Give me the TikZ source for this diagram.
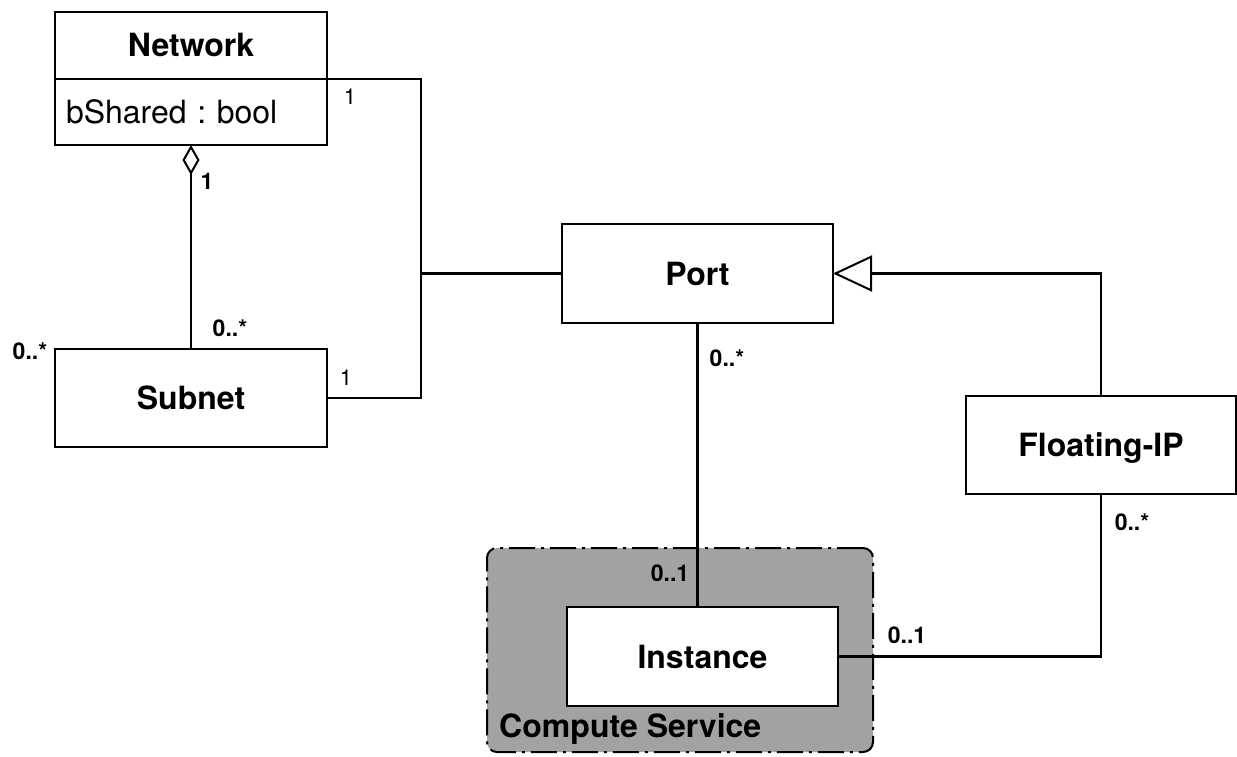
\documentclass[tikz,border=0pt]{standalone}
\usepackage{fontspec}
\setmainfont{TeX Gyre Heros}
\usepackage{tikz}
\usetikzlibrary{arrows.meta, positioning, calc}
\definecolor{groupgray}{RGB}{162,162,162}
\tikzstyle{umlclass} = [rectangle, draw, line width=2.4pt, fill=white, outer sep=0pt, inner sep=0pt,
                        minimum width=272pt, minimum height=98pt, text height=23pt, text depth=0pt,
                        font=\fontsize{32}{36}\selectfont\bfseries]
\tikzstyle{attr}     = [umlclass, font=\fontsize{32}{36}\selectfont, text width=250pt, align=left]
\tikzstyle{grp}      = [rectangle, draw, line width=2pt, fill=groupgray, rounded corners=10pt,
                        dash pattern=on 26pt off 6pt on 3pt off 6pt]
\tikzstyle{mult}     = [inner sep=0pt, font=\fontsize{23}{25}\selectfont\bfseries]
\tikzstyle{multreg}  = [inner sep=0pt, font=\fontsize{22}{24}\selectfont]
\tikzstyle{assoc}    = [line width=2.4pt]

\begin{document}
\frenchspacing
\begin{tikzpicture}[x=1pt, y=-1pt]
    \useasboundingbox (0,0) rectangle (1237,757);

    % compute service group
    \node[grp, minimum width=386pt, minimum height=204pt] (compute) at (680,650) {};
    \node[anchor=base west, inner sep=0pt, font=\fontsize{32}{36}\selectfont\bfseries]
         (cslabel) at (499,737) {Compute Service};

    % classes
    \node[umlclass, minimum height=67pt] (nethead) at (191,45.5) {Network};
    \node[attr, minimum height=66pt, below=0pt of nethead] (netattr) {bShared : bool};
    \node[umlclass] (subnet) at (191,398) {Subnet};
    \node[umlclass, minimum width=271pt, minimum height=99pt] (port) at (697.5,273.5) {Port};
    \node[umlclass, minimum width=270pt] (floating) at (1101,445) {Floating-IP};
    \node[umlclass, minimum width=271pt, minimum height=99pt] (instance) at (702.5,656.5) {Instance};

    % connectors
    \coordinate (jn) at (421,79);
    \draw[assoc] (nethead.south east) -- (jn) |- (subnet.east);
    \draw[assoc] (port.west) -- (port.west -| jn);
    \draw[assoc, {Diamond[open, length=30pt, width=17pt, line width=2pt]}-] (netattr.south) -- (subnet.north);
    \draw[assoc, -{Triangle[open, length=39pt, width=36pt, line width=2pt]}] (floating.north) |- (port.east);
    \draw[assoc] (port.south) -- (port.south |- instance.north);
    \draw[assoc] (instance.east) -| (floating.south);

    % multiplicities
    \node[multreg] (m1) at (350,97) {1};
    \node[multreg] (m2) at (346,378) {1};
    \node[mult] (m3) at (207,181) {1};
    \node[mult] (m4) at (230,328) {0..*};
    \node[mult] (m5) at (30,351) {0..*};
    \node[mult] (m6) at (727,358) {0..*};
    \node[mult] (m7) at (1132,522) {0..*};
    \node[mult] (m8) at (670,573) {0..1};
    \node[mult] (m9) at (907,635) {0..1};
\end{tikzpicture}
\end{document}
